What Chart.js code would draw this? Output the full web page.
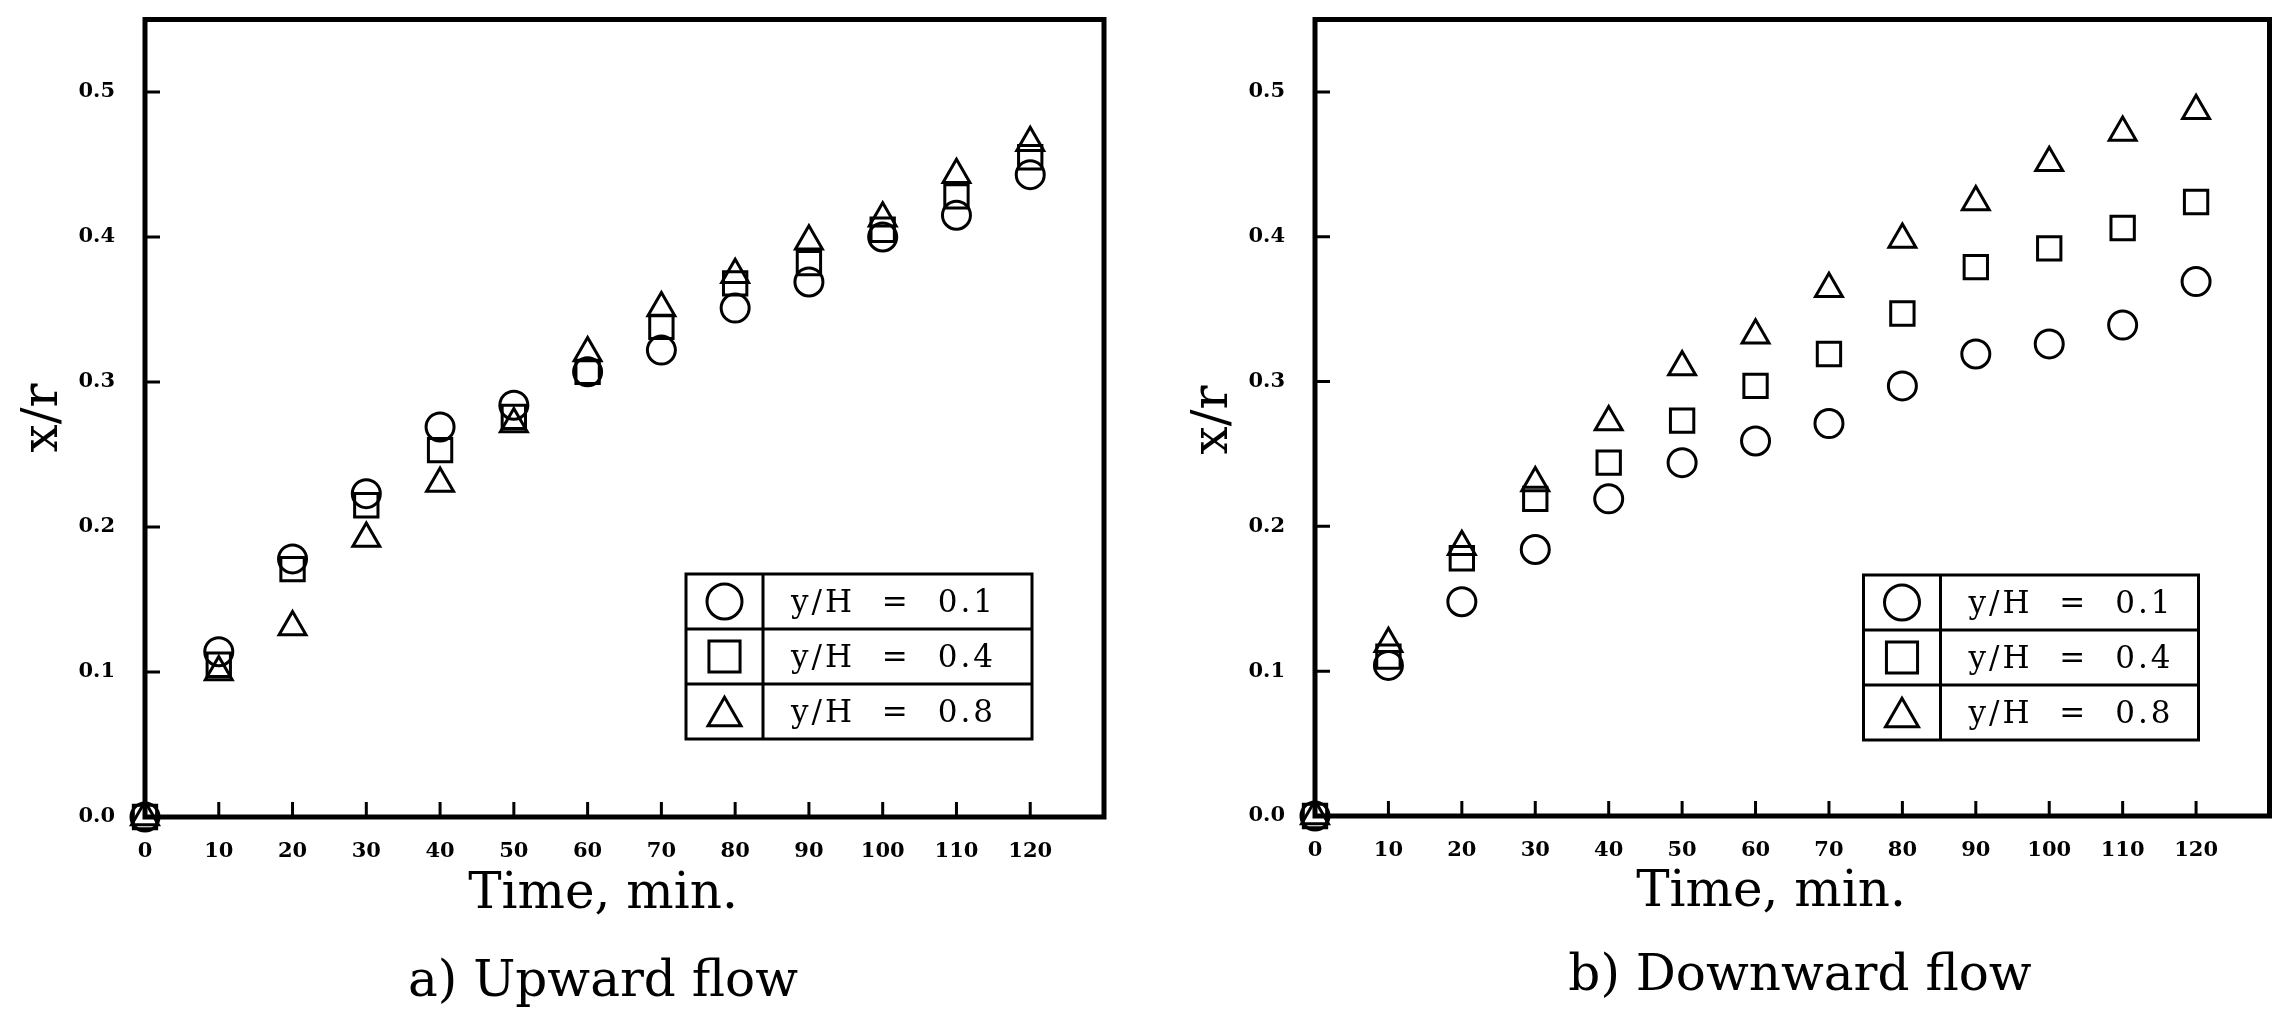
<!DOCTYPE html>
<html>
<head>
<meta charset="utf-8">
<script src="https://cdn.jsdelivr.net/npm/chart.js@4/dist/chart.umd.min.js"></script>
<style>
html,body{margin:0;padding:0;background:#fff;width:2289px;height:1018px;overflow:hidden;}
canvas{position:absolute;top:0;}
#upChart{left:0;}
#downChart{left:1170px;}
</style>
</head>
<body>
<canvas id="upChart" width="1160" height="1018"></canvas>
<canvas id="downChart" width="1119" height="1018"></canvas>
<script>
// ---- data ----
const timeMin = [0, 10, 20, 30, 40, 50, 60, 70, 80, 90, 100, 110, 120];
const xTicks = [0, 10, 20, 30, 40, 50, 60, 70, 80, 90, 100, 110, 120];
const yTicks = [0, 0.1, 0.2, 0.3, 0.4, 0.5];
const seriesLabels = ['y/H = 0.1', 'y/H = 0.4', 'y/H = 0.8'];
const xTitle = 'Time, min.';
const yTitle = 'x/r';
const upTitle = 'a) Upward flow';
const downTitle = 'b) Downward flow';

// a) Upward flow
const upH01 = [0, 0.114, 0.178, 0.223, 0.269, 0.284, 0.307, 0.322, 0.351, 0.369, 0.400, 0.415, 0.443];
const upH04 = [0, 0.105, 0.171, 0.215, 0.253, 0.276, 0.307, 0.338, 0.368, 0.382, 0.405, 0.428, 0.455];
const upH08 = [0, 0.100, 0.131, 0.192, 0.230, 0.271, 0.320, 0.351, 0.374, 0.397, 0.413, 0.443, 0.465];

// b) Downward flow
const downH01 = [0, 0.104, 0.148, 0.184, 0.219, 0.244, 0.259, 0.271, 0.297, 0.319, 0.326, 0.339, 0.369];
const downH04 = [0, 0.110, 0.178, 0.219, 0.244, 0.273, 0.297, 0.319, 0.347, 0.379, 0.392, 0.406, 0.424];
const downH08 = [0, 0.119, 0.186, 0.230, 0.272, 0.310, 0.332, 0.364, 0.398, 0.424, 0.451, 0.472, 0.487];

// ---- plugins ----
const frameTicks = {
  id: 'frameTicks',
  beforeDatasetsDraw(chart, args, o) {
    const {ctx, chartArea: a, scales: {x, y}} = chart;
    ctx.save();
    ctx.strokeStyle = '#000';
    ctx.lineCap = 'butt';
    ctx.lineWidth = o.tickWidth;
    ctx.beginPath();
    x.ticks.forEach(t => {
      if (t.value === 0) return;
      const px = x.getPixelForValue(t.value);
      ctx.moveTo(px, a.bottom);
      ctx.lineTo(px, a.bottom - o.tickLen);
    });
    y.ticks.forEach(t => {
      if (t.value === 0) return;
      const py = y.getPixelForValue(t.value);
      ctx.moveTo(a.left, py);
      ctx.lineTo(a.left + o.tickLen, py);
    });
    ctx.stroke();
    ctx.lineWidth = o.frameWidth;
    ctx.strokeRect(a.left, a.top, a.right - a.left, a.bottom - a.top);
    ctx.restore();
  }
};

function drawShape(ctx, style, cx, cy, r) {
  ctx.beginPath();
  if (style === 'circle') {
    ctx.arc(cx, cy, r, 0, Math.PI * 2);
  } else if (style === 'rect') {
    const s = r * Math.SQRT1_2;
    ctx.rect(cx - s, cy - s, 2 * s, 2 * s);
  } else {
    const h = r * Math.sqrt(3) / 2;
    ctx.moveTo(cx, cy - r);
    ctx.lineTo(cx + h, cy + r / 2);
    ctx.lineTo(cx - h, cy + r / 2);
    ctx.closePath();
  }
  ctx.stroke();
}

const tableLegend = {
  id: 'tableLegend',
  afterDatasetsDraw(chart, args, o) {
    const {ctx, chartArea: a} = chart;
    const right = a.right - o.right;
    const bottom = a.bottom - o.bottom;
    const left = right - o.width;
    const n = chart.data.datasets.length;
    const top = bottom - n * o.rowH;
    ctx.save();
    ctx.strokeStyle = '#000';
    ctx.fillStyle = '#000';
    ctx.lineWidth = o.lineWidth;
    ctx.strokeRect(left, top, o.width, n * o.rowH);
    ctx.beginPath();
    ctx.moveTo(left + o.markerCol, top);
    ctx.lineTo(left + o.markerCol, bottom);
    for (let i = 1; i < n; i++) {
      ctx.moveTo(left, top + i * o.rowH);
      ctx.lineTo(right, top + i * o.rowH);
    }
    ctx.stroke();
    ctx.font = o.font;
    ctx.textAlign = 'left';
    ctx.textBaseline = 'middle';
    if ('letterSpacing' in ctx) ctx.letterSpacing = o.letterSpacing;
    if ('wordSpacing' in ctx) ctx.wordSpacing = o.wordSpacing;
    chart.data.datasets.forEach((ds, i) => {
      const cy = top + (i + 0.5) * o.rowH;
      const cx = left + o.markerCol / 2;
      ctx.lineWidth = 3;
      const r = o.markerR[i];
      drawShape(ctx, ds.pointStyle, cx, ds.pointStyle === 'triangle' ? cy + r / 4 : cy, r);
      ctx.fillText(ds.label, left + o.markerCol + o.textPad, cy + 2);
    });
    ctx.restore();
  }
};

const texts = {
  id: 'texts',
  afterDraw(chart, args, o) {
    const {ctx} = chart;
    ctx.save();
    ctx.fillStyle = '#000';
    ctx.font = o.font;
    ctx.textAlign = 'center';
    ctx.textBaseline = 'alphabetic';
    ctx.fillText(xTitle, o.xTitle[0], o.xTitle[1]);
    ctx.fillText(o.subtitle, o.sub[0], o.sub[1]);
    ctx.translate(o.yTitle[0], o.yTitle[1]);
    ctx.rotate(-Math.PI / 2);
    ctx.textBaseline = 'middle';
    ctx.fillText(yTitle, 0, 0);
    ctx.restore();
  }
};

function makeChart(id, values, cfg) {
  const styles = ['circle', 'rect', 'triangle'];
  const radii = [14, 16.5, 15.5];
  const datasets = values.map((vals, i) => ({
    label: seriesLabels[i],
    data: timeMin.map((t, k) => ({x: t, y: vals[k]})),
    pointStyle: styles[i],
    pointRadius: radii[i],
    pointHoverRadius: radii[i],
    pointBorderWidth: 3,
    pointHoverBorderWidth: 3,
    borderColor: '#000',
    backgroundColor: 'rgba(0,0,0,0)',
    showLine: false,
    clip: false
  }));
  const tickFont = {family: 'DejaVu Serif', size: 21, weight: 'bold'};
  return new Chart(document.getElementById(id), {
    type: 'scatter',
    data: {datasets},
    plugins: [frameTicks, tableLegend, texts],
    options: {
      responsive: false,
      maintainAspectRatio: false,
      animation: false,
      events: [],
      layout: {padding: {left: 0, top: cfg.padTop, right: cfg.padRight, bottom: 0}},
      scales: {
        x: {
          type: 'linear',
          min: 0, max: 130,
          afterBuildTicks: s => { s.ticks = xTicks.map(v => ({value: v})); },
          afterFit: s => { s.height = cfg.xHeight; s.paddingLeft = 0; s.paddingRight = 0; },
          grid: {display: false, drawTicks: false},
          border: {display: false},
          ticks: {color: '#000', font: tickFont, padding: 22, maxRotation: 0, autoSkip: false,
                  callback: v => String(v)}
        },
        y: {
          type: 'linear',
          min: 0, max: 0.55,
          afterBuildTicks: s => { s.ticks = yTicks.map(v => ({value: v})); },
          afterFit: s => { s.width = cfg.yWidth; s.paddingTop = 0; s.paddingBottom = 0; },
          grid: {display: false, drawTicks: false},
          border: {display: false},
          ticks: {color: '#000', font: tickFont, padding: 30, autoSkip: false,
                  callback: v => Number(v).toFixed(1)}
        }
      },
      plugins: {
        legend: {display: false},
        tooltip: {enabled: false},
        title: {display: false},
        frameTicks: {tickLen: 15, tickWidth: 3, frameWidth: 5},
        tableLegend: Object.assign({
          rowH: 55, markerCol: 77, textPad: 28, lineWidth: 3,
          markerR: [17.5, 22, 19],
          font: '31px "DejaVu Serif"', letterSpacing: '3px', wordSpacing: '14px'
        }, cfg.legend),
        texts: Object.assign({font: '50px "DejaVu Serif"'}, cfg.texts)
      }
    }
  });
}

makeChart('upChart', [upH01, upH04, upH08], {
  padTop: 16, padRight: 56, xHeight: 201, yWidth: 145,
  legend: {right: 72, bottom: 78, width: 346},
  texts: {xTitle: [603, 908], sub: [603, 996], yTitle: [44, 418], subtitle: upTitle}
});

makeChart('downChart', [downH01, downH04, downH08], {
  padTop: 16, padRight: 16, xHeight: 202, yWidth: 145,
  legend: {right: 71, bottom: 76, width: 335},
  texts: {xTitle: [601, 906], sub: [630, 990], yTitle: [44, 420], subtitle: downTitle}
});
</script>
</body>
</html>
